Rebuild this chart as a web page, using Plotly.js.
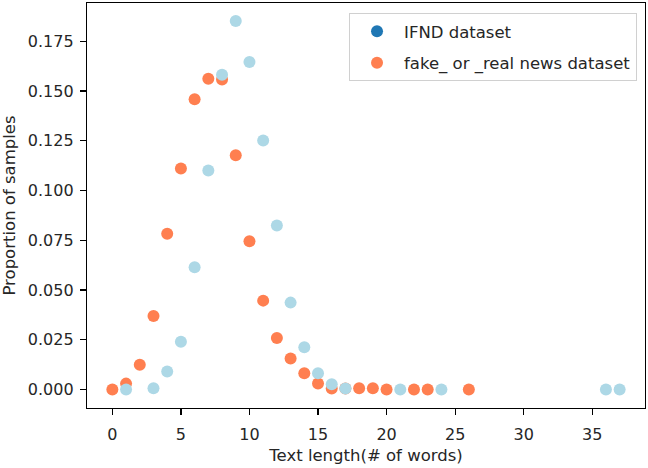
<!DOCTYPE html>
<html>
<head>
<meta charset="utf-8">
<script src="https://cdn.plot.ly/plotly-3.0.1.min.js"></script>
<style>html,body{margin:0;padding:0;background:#fff;}#chart{width:648px;height:468px;}</style>
</head>
<body>
<div id="chart"></div>
<script>
// IFND dataset
const ifndX = [1, 3, 4, 5, 6, 7, 8, 9, 10, 11, 12, 13, 14, 15, 16, 17, 21, 24, 36, 37];
const ifndY = [0.0, 0.0007, 0.0091, 0.024, 0.0615, 0.1101, 0.1582, 0.1852, 0.1646, 0.1252, 0.0824, 0.0437, 0.0213, 0.0082, 0.0027, 0.0005, 0.0, 0.0, 0.0, 0.0];
// fake_or_real news dataset
const fakeX = [0, 1, 2, 3, 4, 5, 6, 7, 8, 9, 10, 11, 12, 13, 14, 15, 16, 17, 18, 19, 20, 22, 23, 26];
const fakeY = [0.0, 0.003, 0.0125, 0.037, 0.0783, 0.1111, 0.1459, 0.1562, 0.1558, 0.1178, 0.0745, 0.0447, 0.0259, 0.0156, 0.0082, 0.0031, 0.0006, 0.0006, 0.0007, 0.0007, 0.0001, 0.0001, 0.0001, 0.0001];
const seriesNames = ["IFND dataset", "fake_ or _real news dataset"];
const yTickVals = [0, 0.025, 0.05, 0.075, 0.1, 0.125, 0.15, 0.175];
const xTickVals = [0, 5, 10, 15, 20, 25, 30, 35];

const tickFont = {family: "DejaVu Sans, sans-serif", size: 16, color: "#262626"};
const textFont = {family: "DejaVu Sans, sans-serif", size: 16.5, color: "#262626"};
const traces = [
  {x: fakeX, y: fakeY, type: "scatter", mode: "markers", showlegend: false,
   marker: {color: "#ff7f50", size: 12}},
  {x: ifndX, y: ifndY, type: "scatter", mode: "markers", showlegend: false,
   marker: {color: "#add8e6", size: 12}},
  // legend entries
  {x: [null], y: [null], type: "scatter", mode: "markers", name: seriesNames[0], legendgroup: "a",
   marker: {color: "#1f77b4", size: 12}},
  {x: [null], y: [null], type: "scatter", mode: "markers", name: seriesNames[1], legendgroup: "b",
   marker: {color: "#ff7f50", size: 12}}
];
const axisCommon = {showline: true, mirror: true, linecolor: "#000", linewidth: 1.2,
  ticks: "outside", ticklen: 6, tickcolor: "#000", tickwidth: 1.2,
  showgrid: false, zeroline: false, tickfont: tickFont};
const layout = {
  width: 648, height: 468,
  margin: {l: 87, r: 3, t: 3, b: 60},
  paper_bgcolor: "#fff", plot_bgcolor: "#fff",
  font: textFont,
  xaxis: Object.assign({}, axisCommon, {range: [-1.85, 38.85], tickvals: xTickVals, ticklabelstandoff: 6,
    title: {text: "Text length(# of words)", font: textFont, standoff: 6}}),
  yaxis: Object.assign({}, axisCommon, {range: [-0.00925, 0.19425], tickvals: yTickVals, tickformat: ".3f", ticklabelstandoff: 3,
    title: {text: "Proportion of samples", font: textFont, standoff: 10}}),
  legend: {x: 0.9857, y: 0.975, xanchor: "right", yanchor: "top", bordercolor: "#d0d0d0", borderwidth: 1,
    bgcolor: "rgba(255,255,255,0.8)", font: textFont, traceorder: "grouped", tracegroupgap: 7, itemwidth: 44},
  showlegend: true
};
Plotly.newPlot("chart", traces, layout, {displayModeBar: false, staticPlot: true});
</script>
</body>
</html>
